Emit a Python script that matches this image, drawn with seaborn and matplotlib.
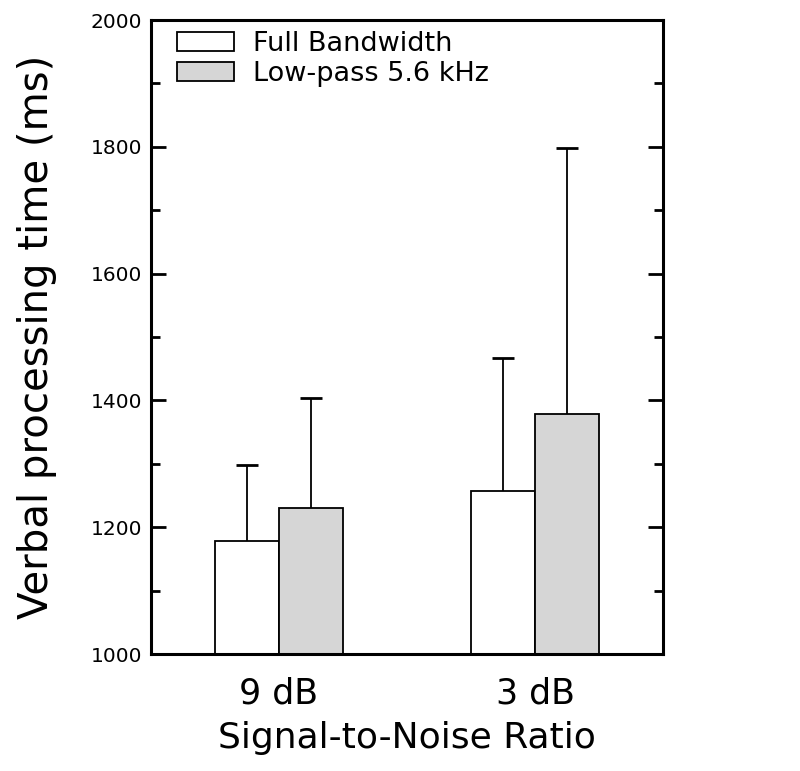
import matplotlib
matplotlib.use("Agg")
import matplotlib.pyplot as plt
import seaborn as sns
import pandas as pd
import numpy as np
from matplotlib.ticker import MultipleLocator

# Data
snr_levels = ["9 dB", "3 dB"]
conditions = ["Full Bandwidth", "Low-pass 5.6 kHz"]
full_means = [1178, 1257]
lowpass_means = [1230, 1378]
full_err = [120, 210]
lowpass_err = [174, 420]

df = pd.DataFrame({
    "snr": snr_levels * 2,
    "cond": [conditions[0]] * 2 + [conditions[1]] * 2,
    "rt": full_means + lowpass_means,
})
errs = {conditions[0]: full_err, conditions[1]: lowpass_err}

sns.set_theme(style="ticks")
plt.rcParams["font.family"] = ["DejaVu Sans"]
plt.rcParams["text.color"] = "black"
plt.rcParams["axes.labelcolor"] = "black"
plt.rcParams["xtick.color"] = "black"
plt.rcParams["ytick.color"] = "black"

fig = plt.figure(figsize=(8, 7.71), dpi=100)
ax = fig.add_axes([151 / 800, 1 - 654 / 771, 512 / 800, 634 / 771])

sns.barplot(data=df, x="snr", y="rt", hue="cond", order=snr_levels,
            hue_order=conditions, palette=["white", "#d6d6d6"],
            edgecolor="black", linewidth=1.3, width=0.5, gap=0,
            errorbar=None, ax=ax)

for cont, cond in zip(ax.containers, conditions):
    xs = [b.get_x() + b.get_width() / 2 for b in cont]
    hs = [b.get_height() for b in cont]
    e = errs[cond]
    eb = ax.errorbar(xs, hs, yerr=[np.zeros(len(e)), e], fmt="none",
                     ecolor="black", elinewidth=1.3, capsize=8, capthick=2,
                     zorder=1)
    caps = eb.lines[1]
    if len(caps) > 1:
        caps[0].set_visible(False)

ax.set_xlim(-0.5, 1.5)
ax.set_ylim(1000, 2000)
ax.yaxis.set_major_locator(MultipleLocator(200))
ax.yaxis.set_minor_locator(MultipleLocator(100))
ax.tick_params(axis="y", which="major", direction="in", length=11, width=2,
               left=True, right=True, labelsize=14.5, pad=6.5)
ax.tick_params(axis="y", which="minor", direction="in", length=6.5, width=2,
               left=True, right=True)
ax.tick_params(axis="x", length=0, labelsize=25, pad=16)
for s in ax.spines.values():
    s.set_visible(True)
    s.set_linewidth(2.2)
    s.set_color("black")

ax.set_xlabel("Signal-to-Noise Ratio", fontsize=26, labelpad=8)
ax.set_ylabel("Verbal processing time (ms)", fontsize=29, labelpad=24)

handles, labels = ax.get_legend_handles_labels()
ax.legend(handles, labels, loc="upper left",
          bbox_to_anchor=(26 / 512, 1 - 11 / 634), borderaxespad=0,
          borderpad=0, frameon=False, fontsize=19.5, handlelength=2.1,
          handleheight=0.7, handletextpad=0.7, labelspacing=0.15)

fig.savefig("out.png", dpi=100)
